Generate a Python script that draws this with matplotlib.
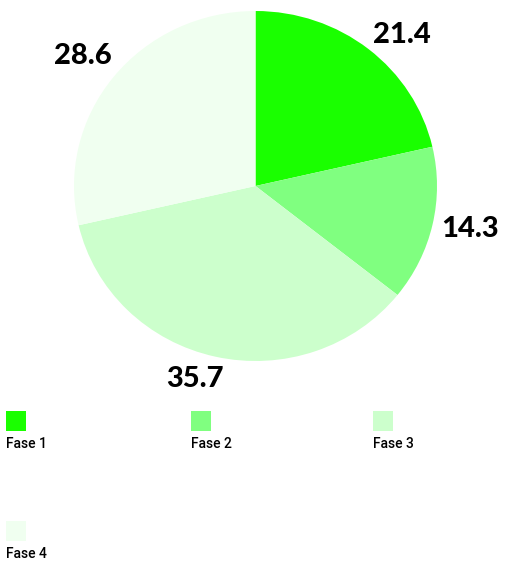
import numpy as np
import matplotlib.pyplot as plt
from matplotlib.patches import Rectangle

phases = ["Fase 1", "Fase 2", "Fase 3", "Fase 4"]
values = [21.4, 14.3, 35.7, 28.6]
colors = ["#1aff00", "#80ff80", "#ccffcc", "#f0fff0"]

W, H = 508, 565
fig = plt.figure(figsize=(W / 100, H / 100), dpi=100)

# pie slightly wider than tall in the reference: x 74..437, y 11..361 px
ax = fig.add_axes([74 / W, 1 - 361 / H, 363 / W, 350 / H])
wedges, texts = ax.pie(values, colors=colors, startangle=90, counterclock=False,
                       labels=[f"{v}" for v in values], labeldistance=1.2,
                       wedgeprops=dict(linewidth=0))
ax.set_xlim(-1, 1)
ax.set_ylim(-1, 1)
ax.set_aspect("auto")
ax.axis("off")

# label placement (distance, angle nudge in degrees)
dist = [1.18, 1.21, 1.15, 1.21]
nudge = [-4.5, 1, -4, 0.5]
start = 90
for t, v, d, n in zip(texts, values, dist, nudge):
    mid = np.deg2rad(start - v * 3.6 / 2 + n)
    start -= v * 3.6
    t.set_position((d * np.cos(mid), d * np.sin(mid)))
    t.set_ha("center")
    t.set_va("center")
    t.set_fontsize(21)
    t.set_fontweight("black")
    t.set_family(["Lato", "DejaVu Sans"])

# legend: squares above labels, 3 columns
col_x = [6, 191, 373]
row_y = [411, 521]
for i, (name, c) in enumerate(zip(phases, colors)):
    x = col_x[i % 3]
    y = row_y[i // 3]
    fig.patches.append(Rectangle((x / W, 1 - (y + 20) / H), 20 / W, 20 / H,
                                 transform=fig.transFigure, facecolor=c,
                                 edgecolor="none"))
    fig.text(x / W, 1 - (y + 33.5) / H, name, fontsize=10, va="center",
             ha="left", fontweight="medium", family=["Roboto", "DejaVu Sans"])

fig.savefig("out.png", dpi=100)
